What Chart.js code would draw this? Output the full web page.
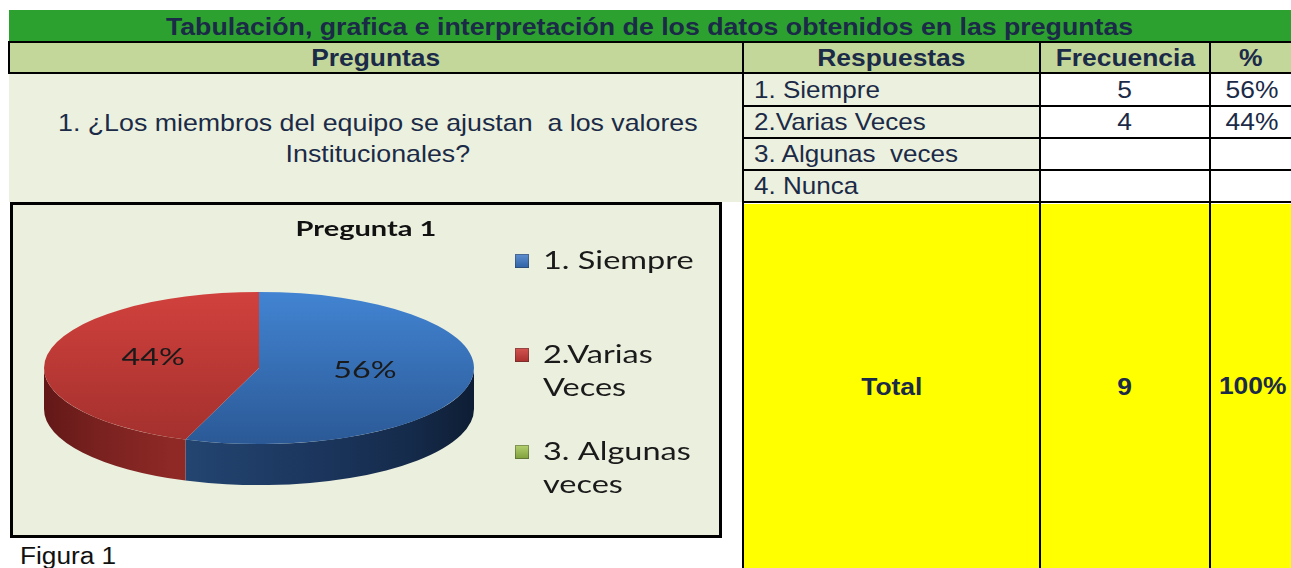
<!DOCTYPE html>
<html><head><meta charset="utf-8">
<script src="https://cdn.jsdelivr.net/npm/chart.js@4.4.0/dist/chart.umd.min.js"></script>
<style>
html,body{margin:0;padding:0;background:#fff;width:1291px;height:568px;overflow:hidden;font-family:"Liberation Sans",Arial,sans-serif;color:#1b2a47}
.c{position:absolute;display:flex;align-items:center;box-sizing:border-box;white-space:pre;font-size:24px}
.ln{position:absolute;background:#000}
.t{display:inline-block;transform:scaleX(1.1);transform-origin:center}
.l .t{transform-origin:left center;transform:scaleX(1.085)}
#chartBox{position:absolute;left:10px;top:202px;width:712px;height:336px;border:3px solid #000;box-sizing:border-box;background:#ebefde}
#fig{position:absolute;left:20px;top:543px;font-size:23px;color:#111;transform:scaleX(1.14);transform-origin:left center}
</style></head><body>
<div id="page"></div>
<div id="chartBox"><canvas id="c" width="706" height="330"></canvas></div>
<div id="fig">Figura 1</div>
<script>
// ---- data ----
const titulo = "Tabulación, grafica e interpretación de los datos obtenidos en las preguntas";
const encabezados = ["Preguntas", "Respuestas", "Frecuencia", "%"];
const pregunta = ["1. ¿Los miembros del equipo se ajustan  a los valores", "Institucionales?"];
const respuestas = ["1. Siempre", "2.Varias Veces", "3. Algunas  veces", "4. Nunca"];
const frecuencia = [5, 4, null, null];
const porcentaje = [56, 44, null, null];
const totalEtiqueta = "Total";
const totalFrecuencia = 9;
const totalPorcentaje = 100;
const graficoTitulo = "Pregunta 1";
const leyenda = ["1. Siempre", "2.Varias Veces", "3. Algunas veces"];
const valoresGrafico = [5, 4, 0];
const porcentajesGrafico = [56, 44, 0];

// ---- layout (styling only) ----
const colX = [9, 743, 1040, 1210, 1291];
const rowY = [74, 106, 138, 170, 202];
const GREEN = "#2da12f", OLIVE = "#c4d79b", LIGHT = "#ebf1de", YELLOW = "#ffff00";
const page = document.getElementById('page');
function cell(x, y, w, h, bg, html, opts = {}) {
  const d = document.createElement('div');
  d.className = 'c' + (opts.align ? ' l' : '');
  Object.assign(d.style, {left: x + 'px', top: y + 'px', width: w + 'px', height: h + 'px', background: bg,
    justifyContent: opts.align || 'center', paddingLeft: (opts.pad || 0) + 'px', fontWeight: opts.bold ? 'bold' : 'normal'});
  if (opts.fs) d.style.fontSize = opts.fs + 'px';
  d.innerHTML = '<span class="t">' + html + '</span>';
  page.appendChild(d);
  return d;
}
function line(x, y, w, h) {
  const d = document.createElement('div');
  d.className = 'ln';
  Object.assign(d.style, {left: x + 'px', top: y + 'px', width: w + 'px', height: h + 'px'});
  page.appendChild(d);
}
// title bar
const tb = cell(9, 10, 1282, 32, GREEN, titulo, {bold: true, fs: 24});
tb.style.paddingTop = '2px';
tb.firstChild.style.transform = 'scaleX(1.113)';
// header row
for (let i = 0; i < 4; i++) cell(colX[i], 42, colX[i + 1] - colX[i], 32, OLIVE, encabezados[i], {bold: true});
// question cell
const q = cell(9, 74, 734, 128, LIGHT, pregunta.join('\n'));
q.style.textAlign = 'center'; q.style.lineHeight = '31px';
q.firstChild.style.marginTop = '-1px';
q.firstChild.style.transform = 'scaleX(1.115)';
q.firstChild.style.marginLeft = '3px';
// answer rows
for (let r = 0; r < 4; r++) {
  const y = rowY[r], h = rowY[r + 1] - rowY[r];
  cell(743, y, 297, h, LIGHT, respuestas[r], {align: 'flex-start', pad: 11});
  cell(1040, y, 170, h, '#fff', frecuencia[r] == null ? '' : String(frecuencia[r]));
  cell(1210, y, 81, h, '#fff', porcentaje[r] == null ? '' : porcentaje[r] + '%').firstChild.style.marginLeft = '4px';
}
// total row
cell(743, 204, 297, 366, YELLOW, totalEtiqueta, {bold: true});
cell(1040, 204, 170, 366, YELLOW, String(totalFrecuencia), {bold: true});
cell(1210, 204, 81, 366, YELLOW, totalPorcentaje + '%', {bold: true}).firstChild.style.marginLeft = '4px';
page.lastChild.style.height = '364px';
// grid lines
line(9, 41, 1282, 2); line(9, 72, 1282, 2);
line(8, 41, 2, 33);
for (let r = 1; r < 5; r++) line(743, rowY[r] - 1, 548, 2);
line(742, 41, 2, 527); line(1039, 41, 2, 527); line(1209, 41, 2, 527);

// ---- chart ----
const SQUASH = 0.354, DEPTH = 41, RADIUS = 215;
const topStops = [["#4284d2", "#2b5996"], ["#d1413d", "#a2302d"], ["#a6c964", "#7f9c44"]];
const sideStops = [
  [[0, "#284c80"], [0.35, "#22446f"], [0.6, "#1c3760"], [0.85, "#152b4b"], [1, "#0e1d34"]],
  [[0, "#621817"], [0.12, "#78211f"], [0.3, "#8e2926"], [1, "#952b28"]],
  [[0, "#6f8a36"], [1, "#5c732c"]]
];
const legendColors = [["#5d8fd0", "#2f62a6"], ["#d45552", "#a8302d"], ["#b5d16f", "#7e9f3c"]];

function topFill(context) {
  const chart = context.chart, ca = chart.chartArea, i = context.dataIndex;
  if (!ca) return topStops[i][0];
  const cy = (ca.top + ca.bottom) / 2;
  const g = chart.ctx.createLinearGradient(0, cy - RADIUS, 0, cy + RADIUS);
  g.addColorStop(0, topStops[i][0]); g.addColorStop(1, topStops[i][1]);
  return g;
}
function stretchedText(ctx, txt, x, y, align, s) {
  const w = ctx.measureText(txt).width * s;
  const x0 = align === 'center' ? x - w / 2 : x;
  ctx.save(); ctx.translate(x0, y); ctx.scale(s, 1);
  ctx.textAlign = 'left'; ctx.fillText(txt, 0, 0); ctx.restore();
}
function wrap(ctx, txt, maxW, s) {
  const words = txt.split(' '); const lines = []; let cur = '';
  words.forEach(w => {
    const test = cur ? cur + ' ' + w : w;
    if (cur && ctx.measureText(test).width * s > maxW) { lines.push(cur); cur = w; } else cur = test;
  });
  if (cur) lines.push(cur);
  return lines;
}
const pie3d = {
  id: 'pie3d',
  beforeDatasetsDraw(chart) {
    const ctx = chart.ctx, arcs = chart.getDatasetMeta(0).data;
    const {x: cx, y: cy, outerRadius: r} = arcs[0];
    const ry = r * SQUASH;
    arcs.forEach((a, i) => {
      if (a.circumference <= 0) return;
      for (let k = -1; k <= 1; k++) {
        const lo = Math.max(a.startAngle + 2 * Math.PI * k, 0);
        const hi = Math.min(a.endAngle + 2 * Math.PI * k, Math.PI);
        if (hi <= lo) continue;
        const g = ctx.createLinearGradient(cx - r, 0, cx + r, 0);
        sideStops[i].forEach(s => g.addColorStop(s[0], s[1]));
        ctx.beginPath();
        ctx.ellipse(cx, cy, r, ry, 0, lo, hi);
        ctx.ellipse(cx, cy + DEPTH, r, ry, 0, hi, lo, true);
        ctx.closePath();
        ctx.fillStyle = g; ctx.fill();
      }
    });
    ctx.save();
    ctx.translate(cx, cy); ctx.scale(1, SQUASH); ctx.translate(-cx, -cy);
  },
  afterDatasetsDraw(chart) {
    const ctx = chart.ctx; ctx.restore();
    const arcs = chart.getDatasetMeta(0).data;
    const {x: cx, y: cy} = arcs[0];
    // slice labels
    ctx.fillStyle = '#1a1a1a'; ctx.font = '23px Lato'; ctx.textBaseline = 'middle';
    arcs.forEach((a, i) => {
      if (a.circumference <= 0) return;
      const mid = (a.startAngle + a.endAngle) / 2, rr = a.outerRadius * 0.5;
      stretchedText(ctx, porcentajesGrafico[i] + '%', cx + rr * Math.cos(mid), cy + rr * SQUASH * Math.sin(mid) - 4, 'center', 1.4);
    });
    // title
    ctx.font = 'bold 20px Lato'; ctx.fillStyle = '#111';
    stretchedText(ctx, graficoTitulo, chart.width / 2, 25, 'center', 1.45);
    // legend
    ctx.font = '25px Lato';
    const lx = 502, ly = [56, 150, 247], lh = 33, ls = 1.30;
    leyenda.forEach((lab, i) => {
      const g = ctx.createLinearGradient(0, ly[i] - 7, 0, ly[i] + 7);
      g.addColorStop(0, legendColors[i][0]); g.addColorStop(1, legendColors[i][1]);
      ctx.fillStyle = g; ctx.fillRect(lx, ly[i] - 7, 14, 14);
      ctx.strokeStyle = 'rgba(40,40,40,0.35)'; ctx.lineWidth = 1; ctx.strokeRect(lx + 0.5, ly[i] - 6.5, 13, 13);
      ctx.fillStyle = '#1a1a1a';
      wrap(ctx, lab, 160, ls).forEach((t, j) => stretchedText(ctx, t, lx + 28, ly[i] + j * lh, 'left', ls));
    });
  }
};
new Chart(document.getElementById('c'), {
  type: 'pie',
  data: {labels: leyenda, datasets: [{data: valoresGrafico, backgroundColor: topFill, borderWidth: 0, radius: RADIUS, clip: false}]},
  options: {
    responsive: false, devicePixelRatio: 1, animation: false, events: [],
    layout: {padding: {left: 0, right: 214, top: 0, bottom: 4}},
    plugins: {legend: {display: false}, tooltip: {enabled: false}, title: {display: false}}
  },
  plugins: [pie3d]
});
</script>
</body></html>
